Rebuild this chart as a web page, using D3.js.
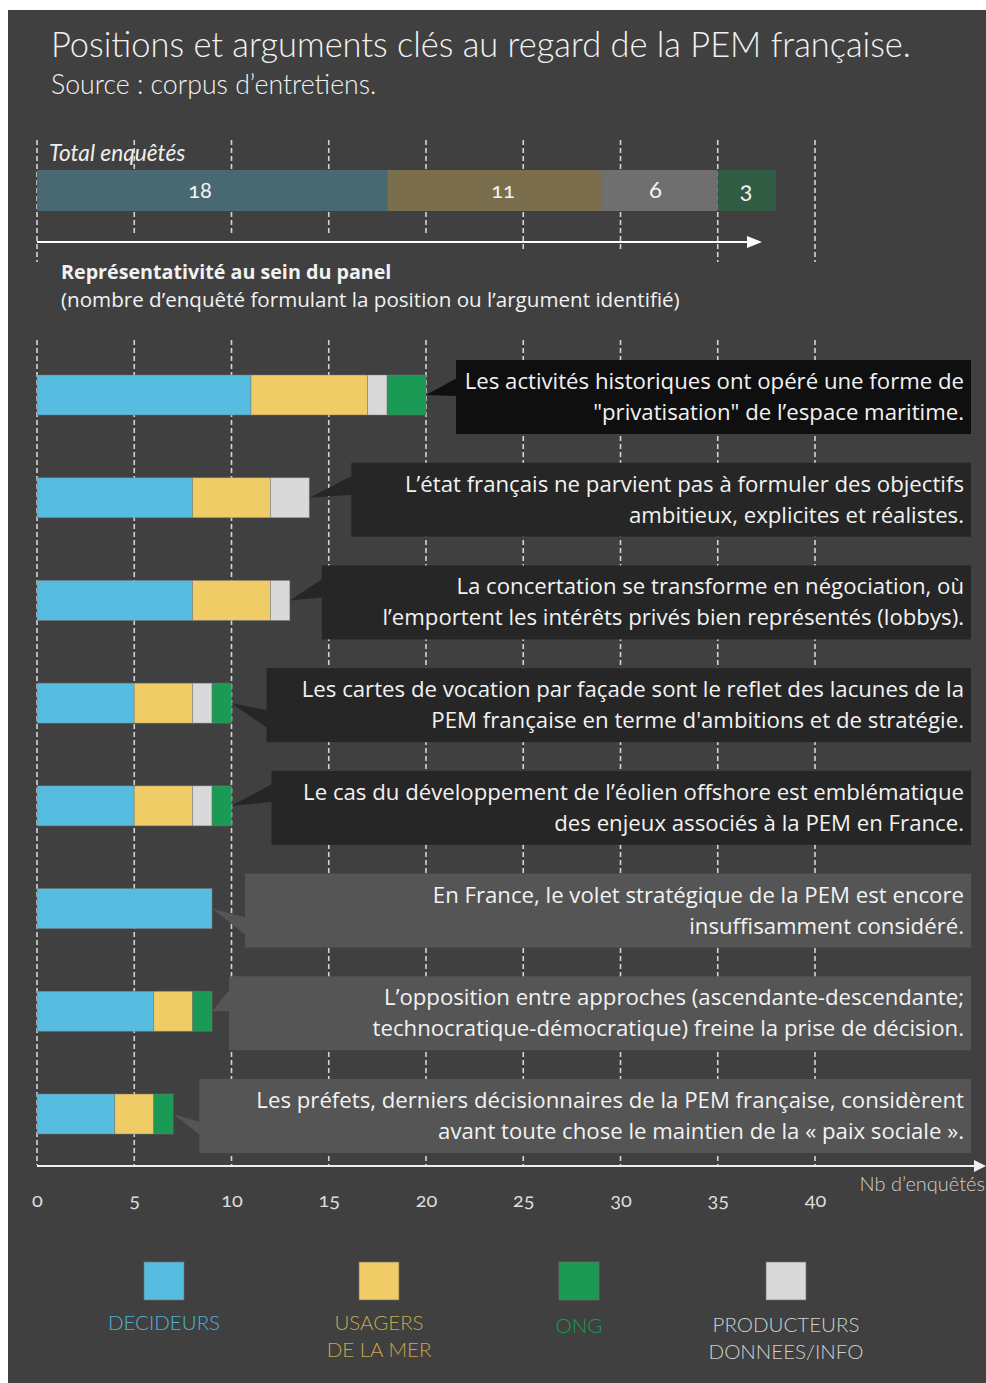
<!DOCTYPE html>
<html lang="fr">
<head>
<meta charset="utf-8">
<script src="https://cdn.jsdelivr.net/npm/d3@7"></script>
<style>
  html, body { margin: 0; padding: 0; background: #ffffff; }
  svg { display: block; font-family: "Open Sans", Lato, sans-serif; }
  .num { font-variant-numeric: oldstyle-nums; }
</style>
</head>
<body>
<svg id="chart" width="986" height="1383"></svg>
<script>
// ---- Data ----------------------------------------------------------------
const groups = ["DECIDEURS", "USAGERS DE LA MER", "PRODUCTEURS DONNEES/INFO", "ONG"];
const groupKeys = ["dec", "usa", "pro", "ong"];

// Total number of interviewees per group
const totalValues = [18, 11, 6, 3];

// Positions / arguments and how many interviewees of each group expressed them
const statements = [
  ["Les activités historiques ont opéré une forme de", "\"privatisation\" de l’espace maritime."],
  ["L’état français ne parvient pas à formuler des objectifs", "ambitieux, explicites et réalistes."],
  ["La concertation se transforme en négociation, où", "l’emportent les intérêts privés bien représentés (lobbys)."],
  ["Les cartes de vocation par façade sont le reflet des lacunes de la", "PEM française en terme d'ambitions et de stratégie."],
  ["Le cas du développement de l’éolien offshore  est emblématique", "des enjeux associés à la PEM en France."],
  ["En France, le volet stratégique de la PEM est encore", "insuffisamment considéré."],
  ["L’opposition entre approches (ascendante-descendante;", "technocratique-démocratique) freine la prise de décision."],
  ["Les préfets, derniers décisionnaires de la PEM française, considèrent", "avant toute chose le maintien de la « paix sociale »."]
];
const decideurs   = [11, 8, 8, 5, 5, 9, 6, 4];
const usagers     = [6, 4, 4, 3, 3, 0, 2, 2];
const producteurs = [1, 2, 1, 1, 1, 0, 0, 0];
const ong         = [2, 0, 0, 1, 1, 0, 1, 1];

const xTicks = [0, 5, 10, 15, 20, 25, 30, 35, 40];

// ---- Styling -------------------------------------------------------------
const barColors   = { dec: "#56bde0", usa: "#efcc66", pro: "#d9d9d9", ong: "#1b9a55" };
const totalColors = { dec: "#486872", usa: "#7a6e4c", pro: "#6f6f6f", ong: "#325b44" };
const legendText  = { dec: "#4fb2d6", usa: "#c7a74e", pro: "#cfcfcf", ong: "#1b9a55" };
const boxFill   = ["#0f0f0f", "#262626", "#262626", "#262626", "#262626", "#555555", "#555555", "#555555"];
const boxGap    = [30, 42, 32, 35, 40, 33, 17, 26];          // space between bar end and callout
const tailBase  = [[18, 36], [13, 32], [13, 32], [42, 60], [13, 31], [44, 62], [13, 35], [43, 56]];
const topGridEnd = [262, 234, 234, 234, 234, 251, 251, 262, 262];

const W = 986, H = 1383;
const svg = d3.select("#chart");

// panel background
svg.append("rect").attr("x", 8).attr("y", 10).attr("width", W - 8).attr("height", H - 10)
  .attr("fill", "#404040");

const x = d3.scaleLinear().domain([0, 40]).range([37, 815]);
const yMid = d3.scalePoint().domain(d3.range(statements.length)).range([395, 1114]);
const barH = 40;

// ---- Titles ----------------------------------------------------------------
svg.append("text").attr("x", 51).attr("y", 57)
  .attr("fill", "#f2f2f2").attr("font-size", 34.4).attr("font-weight", 300)
  .attr("font-family", "Lato, sans-serif")
  .text("Positions et arguments clés au regard de la PEM française.");
svg.append("text").attr("x", 51).attr("y", 94)
  .attr("fill", "#f2f2f2").attr("font-size", 26.7).attr("font-weight", 300)
  .attr("font-family", "Lato, sans-serif")
  .text("Source : corpus d’entretiens.");

// ---- Gridlines ---------------------------------------------------------
const grid = svg.append("g").attr("stroke", "#d4d4d4").attr("stroke-width", 1.6)
  .attr("stroke-dasharray", "5,3");
grid.selectAll("line.top").data(xTicks).join("line").attr("class", "top")
  .attr("x1", d => x(d)).attr("x2", d => x(d)).attr("y1", 140).attr("y2", (d, i) => topGridEnd[i]);
grid.selectAll("line.bot").data(xTicks).join("line").attr("class", "bot")
  .attr("x1", d => x(d)).attr("x2", d => x(d)).attr("y1", 340).attr("y2", 1165);

// ---- Total bar ---------------------------------------------------------
svg.append("text").attr("x", 49).attr("y", 161)
  .attr("fill", "#eeeeee").attr("font-size", 22.7).attr("font-style", "italic")
  .attr("font-family", "Lato, sans-serif")
  .text("Total enquêtés");

const totalStack = d3.stack().keys(groupKeys)([Object.fromEntries(groupKeys.map((k, i) => [k, totalValues[i]]))]);
const labelShift = { dec: -12, usa: 9, pro: -4, ong: -1 };
const tg = svg.append("g");
totalStack.forEach(layer => {
  const s = layer[0];
  tg.append("rect").attr("x", x(s[0])).attr("y", 170)
    .attr("width", x(s[1]) - x(s[0])).attr("height", 41)
    .attr("fill", totalColors[layer.key]);
  tg.append("text").attr("class", "num")
    .attr("x", (x(s[0]) + x(s[1])) / 2 + labelShift[layer.key])
    .attr("y", 198).attr("text-anchor", "middle")
    .attr("font-family", "Lato, sans-serif")
    .attr("fill", "#f4f4f4").attr("font-size", layer.key === "dec" || layer.key === "usa" ? 22 : 24)
    .text(s[1] - s[0]);
});

// arrow under the total bar
svg.append("line").attr("x1", x(0)).attr("x2", 750).attr("y1", 242).attr("y2", 242)
  .attr("stroke", "#ffffff").attr("stroke-width", 2);
svg.append("path").attr("d", "M747,236 L762,242 L747,248 Z").attr("fill", "#ffffff");

svg.append("text").attr("x", 61).attr("y", 279)
  .attr("fill", "#f2f2f2").attr("font-size", 19.7).attr("font-weight", 700)
  .text("Représentativité au sein du panel");
svg.append("text").attr("x", 61).attr("y", 307)
  .attr("fill", "#f2f2f2").attr("font-size", 20.6)
  .text("(nombre d’enquêté formulant la position ou l’argument identifié)");

// ---- Stacked bars ------------------------------------------------------
const rows = statements.map((s, i) => ({ i, dec: decideurs[i], usa: usagers[i], pro: producteurs[i], ong: ong[i] }));
const stacked = d3.stack().keys(groupKeys)(rows);

const bars = svg.append("g");
stacked.forEach(layer => {
  bars.selectAll(null).data(layer.filter(d => d[1] > d[0])).join("rect")
    .attr("x", d => x(d[0])).attr("width", d => x(d[1]) - x(d[0]))
    .attr("y", d => yMid(d.data.i) - barH / 2).attr("height", barH)
    .attr("fill", barColors[layer.key])
    .attr("stroke", "rgba(120,120,120,0.55)").attr("stroke-width", 0.8);
});

// ---- Callouts ------------------------------------------------------------
const boxRight = 971, boxH = 74;
rows.forEach((r, i) => {
  const total = r.dec + r.usa + r.pro + r.ong;
  const tipX = x(total), tipY = yMid(i);
  const left = tipX + boxGap[i];
  const top = tipY - 35;
  const g = svg.append("g");
  g.append("path")
    .attr("d", `M${tipX},${tipY} L${left + 1},${top + tailBase[i][0]} L${left + 1},${top + tailBase[i][1]} Z`)
    .attr("fill", boxFill[i]);
  g.append("rect").attr("x", left).attr("y", top).attr("width", boxRight - left).attr("height", boxH)
    .attr("fill", boxFill[i]);
  statements[i].forEach((line, k) => {
    g.append("text").attr("x", 964).attr("y", top + 29 + k * 31)
      .attr("text-anchor", "end").attr("fill", "#f2f2f2").attr("font-size", 22.2)
      .text(line);
  });
});

// ---- Bottom axis -------------------------------------------------------
svg.append("line").attr("x1", x(0)).attr("x2", 976).attr("y1", 1166).attr("y2", 1166)
  .attr("stroke", "#f0f0f0").attr("stroke-width", 2);
svg.append("path").attr("d", "M974,1160 L986,1166 L974,1172 Z").attr("fill", "#f0f0f0");

const axis = d3.axisBottom(x).tickValues(xTicks).tickSize(0).tickPadding(0);
const ax = svg.append("g").attr("transform", "translate(0,1193)").call(axis);
ax.select(".domain").remove();
ax.selectAll("text").attr("class", "num").attr("fill", "#dddddd")
  .attr("font-size", 20).attr("font-family", "Lato, sans-serif");

svg.append("text").attr("x", 985).attr("y", 1191).attr("text-anchor", "end")
  .attr("fill", "#cfcfcf").attr("font-size", 20).attr("font-weight", 300)
  .attr("font-family", "Lato, sans-serif")
  .text("Nb d’enquêtés");

// ---- Legend ----------------------------------------------------------------
const legendX = [164, 379, 579, 786];
const legendLines = [["DECIDEURS"], ["USAGERS", "DE LA MER"], ["ONG"], ["PRODUCTEURS", "DONNEES/INFO"]];
const legendY = [1330, 1330, 1333, 1332];
groupKeys.forEach(k => {
  const idx = { dec: 0, usa: 1, pro: 3, ong: 2 }[k];
  const cx = legendX[idx];
  svg.append("rect").attr("x", cx - 20).attr("y", 1262).attr("width", 40).attr("height", 38)
    .attr("fill", barColors[k]).attr("stroke", "rgba(110,110,110,0.8)").attr("stroke-width", 0.8);
  legendLines[idx].forEach((t, n) => {
    svg.append("text").attr("x", cx).attr("y", legendY[idx] + n * 27)
      .attr("text-anchor", "middle").attr("fill", legendText[k])
      .attr("font-family", "Lato, sans-serif")
      .attr("font-size", 20.5).attr("font-weight", 300).text(t);
  });
});
</script>
</body>
</html>
